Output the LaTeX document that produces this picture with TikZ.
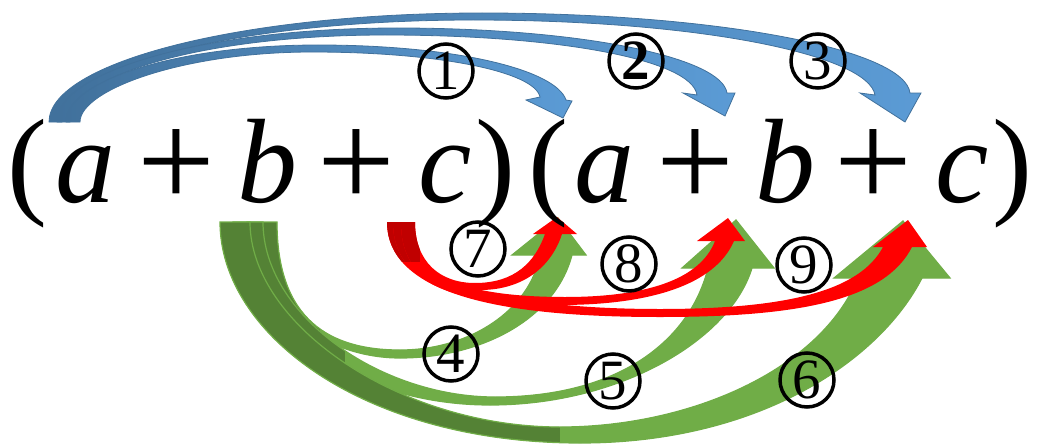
\documentclass[tikz,border=0pt]{standalone}
\usepackage{fontspec}
\setmainfont{Liberation Serif}[ItalicFont={Liberation Serif Italic}, BoldFont={Liberation Serif Bold}]
\definecolor{bdark}{HTML}{41719C}
\definecolor{blight}{HTML}{5B9BD5}
\definecolor{gdark}{HTML}{548235}
\definecolor{glight}{HTML}{70AD47}
\definecolor{rdark}{HTML}{C00000}
\definecolor{rlight}{HTML}{FF0000}
\tikzset{
  glyph/.style={anchor=base, inner sep=0pt, font=\fontsize{120}{120}\selectfont},
  pglyph/.style={anchor=base, inner sep=0pt, font=\fontsize{138}{138}\selectfont},
  iglyph/.style={anchor=base, inner sep=0pt, font=\fontsize{120}{120}\selectfont\itshape},
  num/.style={circle, draw, line width=3.5pt, minimum size=54pt, inner sep=0pt, font=\fontsize{57}{57}\selectfont},
  bluearrow/.style={left color=bdark, right color=blight, draw=bdark, line width=0.8pt},
  greenedge/.style={draw=glight, line width=1.2pt},
}
\def\pBone{(66,122) .. controls (66,80) and (179,45) .. (318,45) .. controls (457,45) and (556,70) .. (566,100) -- (572,101) -- (563,118) -- (526,100) -- (540,97) .. controls (535,72) and (440,52) .. (312,52) .. controls (183,52) and (80,90) .. (80,122) -- cycle}
\def\pBtwo{(57,122) .. controls (57,70) and (210,28) .. (397,28) .. controls (585,28) and (722,58) .. (727,93) -- (735,93) -- (725,116) -- (683,93) -- (697,95) .. controls (692,60) and (560,35) .. (385,35) .. controls (211,35) and (70,73) .. (70,122) -- cycle}
\def\pBthree{(49,122) .. controls (49,62) and (243,13) .. (482,13) .. controls (721,13) and (905,50) .. (910,93) -- (921,93) -- (905,122) -- (860,93) -- (875,95) .. controls (868,55) and (700,20) .. (473,20) .. controls (246,20) and (62,64) .. (62,122) -- cycle}
\def\pGfour{(247,222) .. controls (247,300) and (320,358) .. (400,358) .. controls (480,358) and (555,320) .. (572,255) -- (586,255) -- (558,218) -- (512,255) -- (540,255) .. controls (530,310) and (470,350) .. (400,350) .. controls (330,350) and (277,320) .. (277,222) -- cycle}
\def\pGfive{(233,222) .. controls (233,320) and (350,405) .. (490,405) .. controls (620,405) and (730,340) .. (752,268) -- (774,268) -- (736,220) -- (682,268) -- (708,268) .. controls (690,340) and (620,397) .. (495,397) .. controls (380,397) and (263,315) .. (263,222) -- cycle}
\def\pGsix{(220,222) .. controls (220,335) and (365,443) .. (580,443) .. controls (760,443) and (880,360) .. (922,278) -- (950,278) -- (903,221) -- (834,278) -- (858,278) .. controls (820,370) and (690,427) .. (560,427) .. controls (400,427) and (250,325) .. (250,222) -- cycle}
\def\pRseven{(401,222) .. controls (401,270) and (430,290) .. (480,290) .. controls (525,290) and (552,265) .. (562,234) -- (577,234) -- (557,217) -- (533,234) -- (545,234) .. controls (535,262) and (515,283) .. (475,283) .. controls (440,283) and (415,262) .. (415,222) -- cycle}
\def\pReight{(393,222) .. controls (393,290) and (470,305) .. (560,305) .. controls (650,305) and (715,285) .. (734,241) -- (745,241) -- (728,218) -- (697,241) -- (715,241) .. controls (700,280) and (645,297) .. (565,297) .. controls (480,297) and (405,282) .. (405,222) -- cycle}
\def\pRnine{(387,222) .. controls (387,300) and (520,317) .. (660,317) .. controls (800,317) and (885,300) .. (912,247) -- (927,247) -- (908,220) -- (873,247) -- (883,247) .. controls (860,290) and (790,309) .. (660,309) .. controls (530,309) and (400,290) .. (400,222) -- cycle}
\begin{document}
\begin{tikzpicture}[x=1pt,y=-1pt]
\useasboundingbox (0,0) rectangle (1043,444);
% green arrows (4,5,6)
\fill[glight] \pGfour;
\begin{scope}\clip \pGfour; \fill[gdark] (200,200) rectangle (320,444);\end{scope}
\path[greenedge] \pGfour;
\fill[glight] \pGfive;
\begin{scope}\clip \pGfive; \fill[gdark] (200,200) rectangle (345,444);\end{scope}
\path[greenedge] \pGfive;
\fill[glight] \pGsix;
\begin{scope}\clip \pGsix; \fill[gdark] (200,200) rectangle (560,444);\end{scope}
\path[greenedge] \pGsix;
% red arrows (7,8,9)
\fill[rlight] \pRnine;
\begin{scope}\clip \pRnine; \fill[rdark] (380,200) rectangle (420,262);\end{scope}
\fill[rlight] \pReight;
\begin{scope}\clip \pReight; \fill[rdark] (380,200) rectangle (420,262);\end{scope}
\fill[rlight] \pRseven;
\begin{scope}\clip \pRseven; \fill[rdark] (380,200) rectangle (420,262);\end{scope}
% blue arrows (1,2,3)
\path[bluearrow] \pBthree;
\path[bluearrow] \pBtwo;
\path[bluearrow] \pBone;
% expression
\node[glyph]  (lp1) at (27,202) {(};
\node[iglyph] (a1)  at (85,202) {a};
\node[pglyph] (pl1) at (176,207) {+};
\node[iglyph] (b1)  at (267,202) {b};
\node[pglyph] (pl2) at (356,207) {+};
\node[iglyph] (c1)  at (445,202) {c};
\node[glyph]  (rp1) at (495,202) {)};
\node[glyph]  (lp2) at (548,202) {(};
\node[iglyph] (a2)  at (604,202) {a};
\node[pglyph] (pl3) at (695,207) {+};
\node[iglyph] (b2)  at (785,202) {b};
\node[pglyph] (pl4) at (873,207) {+};
\node[iglyph] (c2)  at (962,202) {c};
\node[glyph]  (rp2) at (1012,202) {)};
% circled numbers
\node[num] (n1) at (446,71) {1};
\node[num, font=\fontsize{57}{57}\selectfont\bfseries] (n2) at (636,61) {2};
\node[num] (n3) at (818,61) {3};
\node[num] (n4) at (451,354) {4};
\node[num] (n5) at (613,381) {5};
\node[num] (n6) at (807,380) {6};
\node[num] (n7) at (478,249) {7};
\node[num] (n8) at (629,264) {8};
\node[num] (n9) at (804,265) {9};
\end{tikzpicture}
\end{document}
